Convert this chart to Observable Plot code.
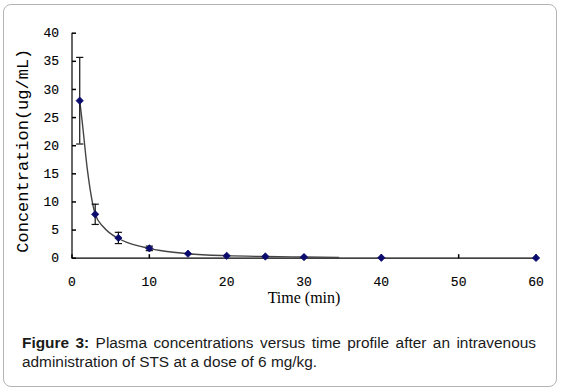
<!DOCTYPE html>
<html><head><meta charset="utf-8">
<script src="https://cdn.jsdelivr.net/npm/d3@7"></script>
<script src="https://cdn.jsdelivr.net/npm/@observablehq/plot@0.6"></script>
<style>
body{margin:0;background:#fff;width:569px;height:390px;position:relative;overflow:hidden;}
#frame{position:absolute;left:3px;top:4px;width:554px;height:383px;border:1px solid #b4b4b4;border-radius:8px;box-sizing:border-box;}
#chart{position:absolute;left:0;top:0;}
#chart svg g[aria-label$="tick label"] {stroke:#000;stroke-width:0.15px;}
#caption{position:absolute;left:22px;top:334px;width:514px;font:15.4px "Liberation Sans",Arial,sans-serif;line-height:18.5px;text-align:justify;color:#1a1a1a;}
</style></head><body>
<div id="frame"></div>
<div id="chart"></div>
<div id="caption"><b>Figure 3:</b> Plasma concentrations versus time profile after an intravenous administration of STS at a dose of 6 mg/kg.</div>
<script>
// Observed mean concentrations (ug/mL) at each sampling time (min)
const time = [1, 3, 6, 10, 15, 20, 25, 30, 40, 60];
const conc = [28.0, 7.8, 3.6, 1.75, 0.8, 0.42, 0.3, 0.2, 0.08, 0.05];
const sd   = [7.7, 1.8, 1.0, 0.4, 0, 0, 0, 0, 0, 0];
// Fitted curve
const fitTime = [1, 1.3, 2, 2.6, 3, 4.1, 6, 7.1, 10, 11.4, 15, 20, 25, 30, 34.5];
const fitConc = [28, 24.5, 15.6, 10.2, 7.8, 5.5, 3.5, 2.8, 1.75, 1.37, 0.8, 0.45, 0.3, 0.22, 0.15];
const xTicks = [0, 10, 20, 30, 40, 50, 60];
const yTicks = [0, 5, 10, 15, 20, 25, 30, 35, 40];
const xLabel = "Time (min)";
const yLabel = "Concentration(ug/mL)";

const points = time.map((t, i) => ({t, c: conc[i], sd: sd[i]}));
const errs = points.filter(d => d.sd > 0);
const fit = fitTime.map((t, i) => ({t, c: fitConc[i]}));

const tickUp = {draw(ctx) { ctx.moveTo(0, 0); ctx.lineTo(0, -4); }};
const tickRight = {draw(ctx) { ctx.moveTo(0, 0); ctx.lineTo(4, 0); }};
const cap = {draw(ctx) { ctx.moveTo(-3.6, 0); ctx.lineTo(3.6, 0); }};

const mono = "'Liberation Mono', monospace";

const chart = Plot.plot({
  width: 569,
  height: 320,
  marginLeft: 71.5,
  marginRight: 33.5,
  marginTop: 32.7,
  marginBottom: 62.3,
  style: {background: "transparent", fontFamily: mono, fontSize: "13px", color: "#000"},
  x: {domain: [0, 60]},
  y: {domain: [0, 40]},
  marks: [
    Plot.axisY(yTicks, {tickSize: 0, tickPadding: 13, fontSize: 13, fontFamily: mono, label: null}),
    Plot.axisX(xTicks, {tickSize: 0, tickPadding: 19, fontSize: 13, fontFamily: mono, label: null}),
    Plot.ruleX([0], {y1: 0, y2: 40, stroke: "#000", strokeWidth: 1.2}),
    Plot.ruleY([0], {x1: 0, x2: 60, stroke: "#000", strokeWidth: 1.2}),
    Plot.dot(yTicks, {x: 0, y: d => d, symbol: tickRight, stroke: "#000", fill: "none"}),
    Plot.dot(xTicks, {x: d => d, y: 0, symbol: tickUp, stroke: "#000", fill: "none"}),
    Plot.line(fit, {x: "t", y: "c", curve: "monotone-x", stroke: "#444", strokeWidth: 1.4}),
    Plot.ruleX(errs, {x: "t", y1: d => d.c - d.sd, y2: d => d.c + d.sd, stroke: "#111", strokeWidth: 1.2}),
    Plot.dot(errs, {x: "t", y: d => d.c + d.sd, symbol: cap, stroke: "#111", strokeWidth: 1.2, fill: "none"}),
    Plot.dot(errs, {x: "t", y: d => d.c - d.sd, symbol: cap, stroke: "#111", strokeWidth: 1.2, fill: "none"}),
    Plot.dot(points, {x: "t", y: "c", symbol: "diamond2", r: 3.3, fill: "#0b0b6e", stroke: "#0b0b6e", strokeWidth: 0.8}),
    Plot.text([yLabel], {frameAnchor: "left", textAnchor: "middle", rotate: -90, dx: -49.5, dy: 5, fontSize: 17, fontFamily: mono, fill: "#000"}),
    Plot.text([xLabel], {frameAnchor: "bottom", textAnchor: "middle", dy: 45, fontSize: 16, fontFamily: "'Liberation Serif', serif", fill: "#000"})
  ]
});
document.getElementById("chart").appendChild(chart);
</script>
</body></html>
